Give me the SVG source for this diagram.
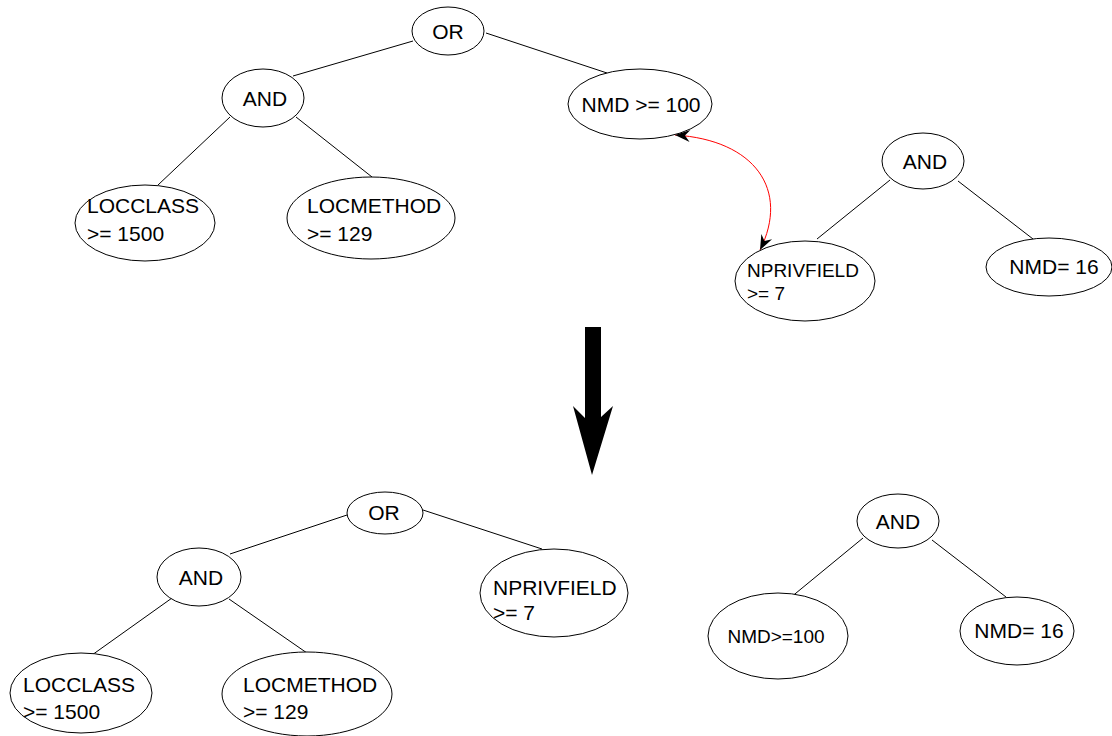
<svg xmlns="http://www.w3.org/2000/svg" width="1112" height="736" viewBox="0 0 1112 736">
  <style>
    .node ellipse { fill: #ffffff; stroke: #000000; stroke-width: 1; }
    .node text { font-family: "Liberation Sans", Arial, Helvetica, sans-serif; font-size: 21px; fill: #000000; }
    .node text.mid { text-anchor: middle; }
    .node text.small { font-size: 19px; }
    #edges line { stroke: #000000; stroke-width: 1; }
    #swap { fill: none; stroke: #ff0000; stroke-width: 1; }
  </style>
  <defs>
    <marker id="head" viewBox="-16 -7 17 14" refX="0" refY="0" markerWidth="17" markerHeight="14" markerUnits="userSpaceOnUse" orient="auto-start-reverse">
      <path d="M0,0 L-15,-6 L-10,0 L-15,6 Z" fill="#000000"/>
    </marker>
  </defs>
  <rect width="1112" height="736" fill="#ffffff"/>

  <!-- connectors -->
  <g id="edges">
    <!-- upper left tree -->
    <line x1="413" y1="41" x2="293" y2="76"/>
    <line x1="486" y1="33" x2="607" y2="73"/>
    <line x1="230" y1="117" x2="158" y2="185"/>
    <line x1="296" y1="117" x2="372" y2="177"/>
    <!-- upper right tree -->
    <line x1="890" y1="180" x2="817" y2="239"/>
    <line x1="958" y1="181" x2="1033" y2="239"/>
    <!-- lower left tree -->
    <line x1="347" y1="515" x2="230" y2="554"/>
    <line x1="423" y1="510" x2="542" y2="549"/>
    <line x1="172" y1="598" x2="92" y2="655"/>
    <line x1="229" y1="599" x2="307" y2="653"/>
    <!-- lower right tree -->
    <line x1="863" y1="538" x2="790" y2="598"/>
    <line x1="932" y1="540" x2="1006" y2="597"/>
    <!-- exchange of the two subtrees -->
    <path id="swap" d="M675,135 C755,140 790,190 760,250" marker-start="url(#head)" marker-end="url(#head)"/>
  </g>

  <!-- transformation arrow -->
  <polygon id="transform" points="585,327 601,327 601,417 613,406 592,475 573,406 585,418" fill="#000000"/>

  <!-- upper left tree -->
  <g id="or-top" class="node">
    <ellipse cx="448" cy="31" rx="36" ry="24"/>
    <text class="mid" x="448" y="39">OR</text>
  </g>
  <g id="and-top" class="node">
    <ellipse cx="263" cy="98" rx="41" ry="29"/>
    <text class="mid" x="265" y="106">AND</text>
  </g>
  <g id="nmd100-top" class="node">
    <ellipse cx="640" cy="104" rx="72" ry="35"/>
    <text class="mid" x="641" y="112">NMD &gt;= 100</text>
  </g>
  <g id="locclass-top" class="node">
    <ellipse cx="145" cy="223" rx="70" ry="38"/>
    <text x="87" y="213">LOCCLASS</text>
    <text x="87" y="241">&gt;= 1500</text>
  </g>
  <g id="locmethod-top" class="node">
    <ellipse cx="371" cy="218" rx="84" ry="41"/>
    <text x="307" y="213">LOCMETHOD</text>
    <text x="307" y="241">&gt;= 129</text>
  </g>

  <!-- upper right tree -->
  <g id="and-right-top" class="node">
    <ellipse cx="923" cy="161" rx="41" ry="28"/>
    <text class="mid" x="925" y="169">AND</text>
  </g>
  <g id="nprivfield-top" class="node">
    <ellipse cx="805" cy="281" rx="70" ry="40"/>
    <text class="small" x="747" y="277">NPRIVFIELD</text>
    <text class="small" x="747" y="300">&gt;= 7</text>
  </g>
  <g id="nmd16-top" class="node">
    <ellipse cx="1049" cy="267" rx="63" ry="29"/>
    <text class="mid" x="1054" y="274">NMD= 16</text>
  </g>

  <!-- lower left tree -->
  <g id="or-bottom" class="node">
    <ellipse cx="385" cy="513" rx="38" ry="21"/>
    <text class="mid" x="384" y="520">OR</text>
  </g>
  <g id="and-bottom" class="node">
    <ellipse cx="199" cy="577" rx="42" ry="29"/>
    <text class="mid" x="201" y="585">AND</text>
  </g>
  <g id="nprivfield-bottom" class="node">
    <ellipse cx="554" cy="593" rx="74" ry="44"/>
    <text x="493" y="595">NPRIVFIELD</text>
    <text x="493" y="620">&gt;= 7</text>
  </g>
  <g id="locclass-bottom" class="node">
    <ellipse cx="81" cy="693" rx="71" ry="40"/>
    <text x="23" y="692">LOCCLASS</text>
    <text x="23" y="719">&gt;= 1500</text>
  </g>
  <g id="locmethod-bottom" class="node">
    <ellipse cx="307" cy="694" rx="85" ry="42"/>
    <text x="243" y="692">LOCMETHOD</text>
    <text x="243" y="719">&gt;= 129</text>
  </g>

  <!-- lower right tree -->
  <g id="and-right-bottom" class="node">
    <ellipse cx="898" cy="521" rx="41" ry="27"/>
    <text class="mid" x="898" y="529">AND</text>
  </g>
  <g id="nmd100-bottom" class="node">
    <ellipse cx="778" cy="636" rx="70" ry="43"/>
    <text class="mid small" x="776" y="643">NMD&gt;=100</text>
  </g>
  <g id="nmd16-bottom" class="node">
    <ellipse cx="1017" cy="631" rx="57" ry="34"/>
    <text class="mid" x="1019" y="638">NMD= 16</text>
  </g>
</svg>
